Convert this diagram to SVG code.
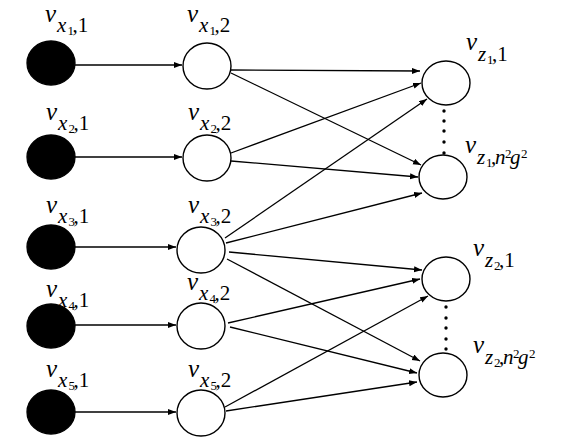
<svg xmlns="http://www.w3.org/2000/svg" width="581" height="439" viewBox="0 0 581 439">
<defs>
<style>
.blk{fill:#000;stroke:#000;stroke-width:1.3}
.wht{fill:#fff;stroke:#000;stroke-width:1.4}
.e{stroke:#000;stroke-width:1.3;fill:none;marker-end:url(#ah)}
text{font-family:'Liberation Serif','Times New Roman','DejaVu Serif',serif;fill:#000}
.v{font-style:italic;font-size:25px}
.s{font-style:italic;font-size:21px}
.n{font-size:21px}
.ss{font-size:13px}
.dot{fill:#000}
</style>
<marker id="ah" markerUnits="userSpaceOnUse" markerWidth="9" markerHeight="7" refX="8" refY="3" orient="auto">
<path d="M0,0 L8,3 L0,6 z" fill="#000"/>
</marker>
</defs>
<rect width="581" height="439" fill="#fff"/>
<g id="connectors">
<line class="e" x1="75" y1="65" x2="182" y2="65"/>
<line class="e" x1="75" y1="157" x2="182" y2="157"/>
<line class="e" x1="75" y1="247" x2="176" y2="247"/>
<line class="e" x1="75" y1="325" x2="176" y2="325"/>
<line class="e" x1="75" y1="412" x2="176" y2="412"/>
<line class="e" x1="231" y1="70" x2="420" y2="71"/>
<line class="e" x1="231" y1="73" x2="421" y2="165"/>
<line class="e" x1="231" y1="153" x2="421" y2="83"/>
<line class="e" x1="231" y1="161" x2="418" y2="177"/>
<line class="e" x1="225" y1="238" x2="427" y2="99"/>
<line class="e" x1="226" y1="243" x2="422" y2="193"/>
<line class="e" x1="229" y1="252" x2="422" y2="270"/>
<line class="e" x1="227" y1="259" x2="420" y2="361"/>
<line class="e" x1="228" y1="323" x2="420" y2="279"/>
<line class="e" x1="230" y1="327" x2="417" y2="373"/>
<line class="e" x1="225" y1="407" x2="428" y2="296"/>
<line class="e" x1="226" y1="411" x2="417" y2="382"/>
</g>
<g id="node-x1-1"><ellipse class="blk" cx="51" cy="63" rx="24" ry="22"/>
<text><tspan class="v" x="45" y="22">v</tspan><tspan class="s" x="57" y="32">x</tspan><tspan class="ss" x="67.5" y="35">1</tspan><tspan class="n" x="72.5" y="32">,1</tspan></text></g>
<g id="node-x2-1"><ellipse class="blk" cx="51" cy="157" rx="24" ry="22"/>
<text><tspan class="v" x="46" y="120">v</tspan><tspan class="s" x="58" y="130">x</tspan><tspan class="ss" x="68.5" y="133">2</tspan><tspan class="n" x="73.5" y="130">,1</tspan></text></g>
<g id="node-x3-1"><ellipse class="blk" cx="51" cy="247" rx="24" ry="22"/>
<text><tspan class="v" x="46" y="213">v</tspan><tspan class="s" x="58" y="223">x</tspan><tspan class="ss" x="68.5" y="226">3</tspan><tspan class="n" x="73.5" y="223">,1</tspan></text></g>
<g id="node-x4-1"><ellipse class="blk" cx="51" cy="326" rx="24" ry="22"/>
<text><tspan class="v" x="46" y="297">v</tspan><tspan class="s" x="58" y="307">x</tspan><tspan class="ss" x="68.5" y="310">4</tspan><tspan class="n" x="73.5" y="307">,1</tspan></text></g>
<g id="node-x5-1"><ellipse class="blk" cx="51" cy="412" rx="24" ry="22"/>
<text><tspan class="v" x="46" y="377">v</tspan><tspan class="s" x="58" y="387">x</tspan><tspan class="ss" x="68.5" y="390">5</tspan><tspan class="n" x="73.5" y="387">,1</tspan></text></g>
<g id="node-x1-2"><ellipse class="wht" cx="207" cy="66" rx="24" ry="23"/>
<text><tspan class="v" x="187" y="22">v</tspan><tspan class="s" x="199" y="32">x</tspan><tspan class="ss" x="209.5" y="35">1</tspan><tspan class="n" x="214.5" y="32">,2</tspan></text></g>
<g id="node-x2-2"><ellipse class="wht" cx="207" cy="158" rx="24" ry="23"/>
<text><tspan class="v" x="188" y="120">v</tspan><tspan class="s" x="200" y="130">x</tspan><tspan class="ss" x="210.5" y="133">2</tspan><tspan class="n" x="215.5" y="130">,2</tspan></text></g>
<g id="node-x3-2"><ellipse class="wht" cx="201" cy="250" rx="24" ry="23"/>
<text><tspan class="v" x="188" y="213">v</tspan><tspan class="s" x="200" y="223">x</tspan><tspan class="ss" x="210.5" y="226">3</tspan><tspan class="n" x="215.5" y="223">,2</tspan></text></g>
<g id="node-x4-2"><ellipse class="wht" cx="201" cy="326" rx="24" ry="23"/>
<text><tspan class="v" x="187" y="290">v</tspan><tspan class="s" x="199" y="300">x</tspan><tspan class="ss" x="209.5" y="303">4</tspan><tspan class="n" x="214.5" y="300">,2</tspan></text></g>
<g id="node-x5-2"><ellipse class="wht" cx="201" cy="413" rx="24" ry="23"/>
<text><tspan class="v" x="188" y="377">v</tspan><tspan class="s" x="200" y="387">x</tspan><tspan class="ss" x="210.5" y="390">5</tspan><tspan class="n" x="215.5" y="387">,2</tspan></text></g>
<g id="node-z1-1"><ellipse class="wht" cx="446" cy="83" rx="24" ry="22"/>
<text><tspan class="v" x="466" y="50">v</tspan><tspan class="s" x="478" y="61">z</tspan><tspan class="ss" x="487" y="64">1</tspan><tspan class="n" x="492" y="61">,1</tspan></text></g>
<g id="node-z1-n"><ellipse class="wht" cx="443" cy="177" rx="24" ry="22"/>
<text><tspan class="v" x="465" y="153">v</tspan><tspan class="s" x="477" y="164">z</tspan><tspan class="ss" x="486" y="167">1</tspan><tspan class="n" x="491" y="164">,</tspan><tspan class="s" x="495" y="164">n</tspan><tspan class="ss" x="505" y="158">2</tspan><tspan class="s" x="510" y="164">g</tspan><tspan class="ss" x="521" y="158">2</tspan></text></g>
<g id="node-z2-1"><ellipse class="wht" cx="446" cy="279" rx="24" ry="22"/>
<text><tspan class="v" x="473" y="256">v</tspan><tspan class="s" x="485" y="267">z</tspan><tspan class="ss" x="494" y="270">2</tspan><tspan class="n" x="499" y="267">,1</tspan></text></g>
<g id="node-z2-n"><ellipse class="wht" cx="443" cy="375" rx="24" ry="22"/>
<text><tspan class="v" x="473" y="353">v</tspan><tspan class="s" x="485" y="364">z</tspan><tspan class="ss" x="494" y="367">2</tspan><tspan class="n" x="499" y="364">,</tspan><tspan class="s" x="503" y="364">n</tspan><tspan class="ss" x="513" y="358">2</tspan><tspan class="s" x="518" y="364">g</tspan><tspan class="ss" x="529" y="358">2</tspan></text></g>
<g id="ellipsis-z1">
<circle class="dot" cx="444" cy="111" r="1.7"/><circle class="dot" cx="444" cy="121" r="1.7"/><circle class="dot" cx="444" cy="131" r="1.7"/><circle class="dot" cx="444" cy="142" r="1.7"/><circle class="dot" cx="444" cy="153" r="1.7"/>
</g>
<g id="ellipsis-z2">
<circle class="dot" cx="446" cy="307" r="1.7"/><circle class="dot" cx="446" cy="318" r="1.7"/><circle class="dot" cx="446" cy="328" r="1.7"/><circle class="dot" cx="446" cy="339" r="1.7"/><circle class="dot" cx="446" cy="349" r="1.7"/>
</g>
</svg>
